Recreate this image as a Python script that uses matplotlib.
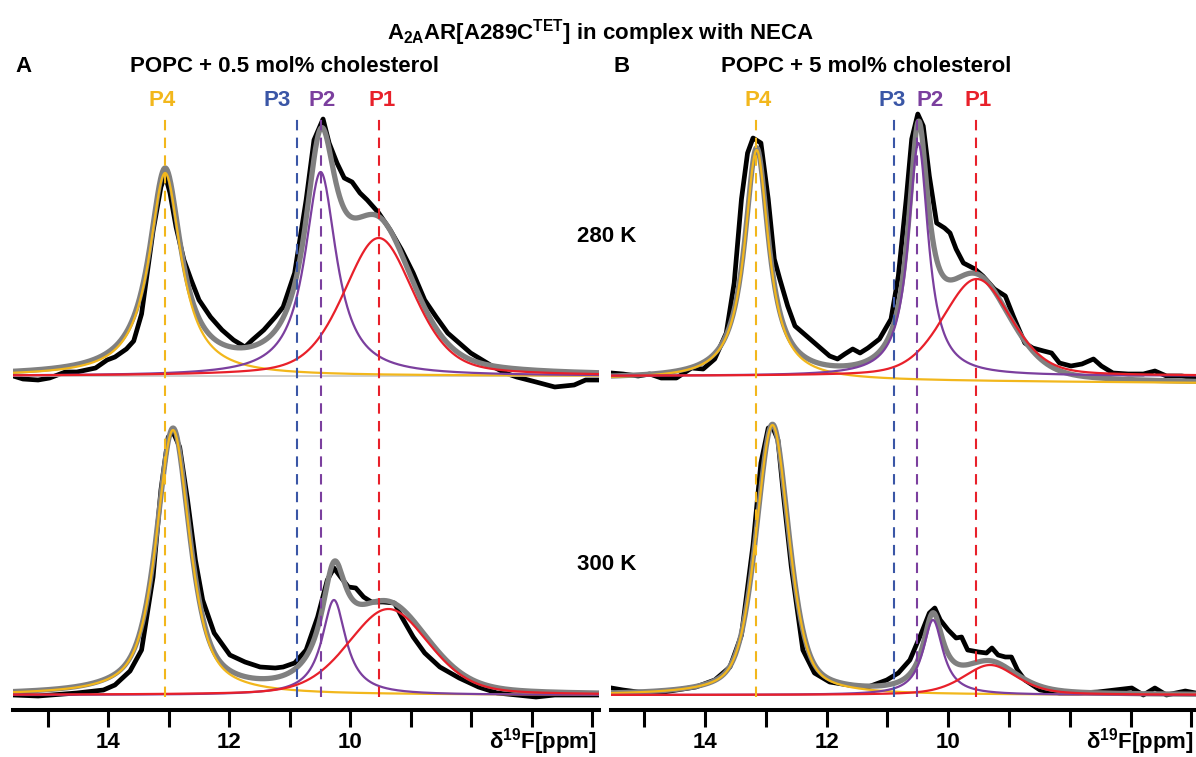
import numpy as np
import matplotlib.pyplot as plt

plt.rcParams['font.family'] = 'Liberation Sans'
plt.rcParams['font.weight'] = 'bold'
plt.rcParams['mathtext.fontset'] = 'custom'
plt.rcParams['mathtext.rm'] = 'Liberation Sans:bold'
plt.rcParams['mathtext.it'] = 'Liberation Sans:bold'
plt.rcParams['mathtext.bf'] = 'Liberation Sans:bold'

# --- colours ---
C_P1 = '#e8202a'
C_P2 = '#7b3f9e'
C_P3 = '#3a56a6'
C_P4 = '#f2b71c'
C_FIT = '#808080'

# --- peak markers (ppm) ---
peaks = ['P4', 'P3', 'P2', 'P1']
peak_colors = [C_P4, C_P3, C_P2, C_P1]
shift_A = [13.06, 10.88, 10.49, 9.52]
shift_B = [13.16, 10.89, 10.52, 9.55]
label_A = [13.11, 11.21, 10.47, 9.48]
label_B = [13.12, 10.93, 10.30, 9.50]

# --- fitted components: centre, height, half width, lorentzian fraction ---
# order: P4, P2, P1
fit_A_280 = dict(c=[13.06, 10.49, 9.53], h=[203, 204, 138], w=[0.32, 0.315, 0.69], eta=[1.0, 1.0, 0.4])
fit_A_300 = dict(c=[12.93, 10.27, 9.37], h=[265, 95, 86], w=[0.33, 0.24, 0.79], eta=[0.7, 1.0, 0.3])
fit_B_280 = dict(c=[13.15, 10.49, 9.53], h=[230, 233, 97], w=[0.24, 0.20, 0.66], eta=[1.0, 1.0, 0.3])
fit_B_300 = dict(c=[12.89, 10.25, 9.31], h=[270, 75, 30], w=[0.32, 0.20, 0.53], eta=[0.5, 1.0, 0.5])
tilt_B_280 = [-3, -7]   # baseline drift of the P4 fit, left -> right

# --- measured spectra (ppm, intensity) ---
ppm_A_280 = [15.57, 15.41, 15.16, 14.97, 14.71, 14.52, 14.21, 14.02, 13.89, 13.70,
             13.58, 13.45, 13.26, 13.13, 13.06, 12.98, 12.88, 12.75, 12.63, 12.50,
             12.31, 12.12, 11.93, 11.74, 11.62, 11.43, 11.24, 11.11, 10.92, 10.73,
             10.60, 10.45, 10.35, 10.22, 10.10, 9.97, 9.84, 9.72, 9.53, 9.34,
             9.15, 8.96, 8.77, 8.58, 8.39, 8.20, 8.01, 7.82, 7.63, 7.44,
             7.25, 6.93, 6.62, 6.30, 6.11, 5.92]
int_A_280 = [0, -3, -4, -2, 4, 4, 8, 16, 19, 27,
             35, 62, 145, 189, 201, 183, 149, 116, 96, 76,
             59, 46, 36, 29, 36, 46, 59, 69, 103, 176,
             236, 257, 233, 213, 198, 194, 183, 176, 163, 146,
             126, 103, 76, 59, 43, 33, 23, 16, 9, 3,
             -1, -6, -11, -9, -4, -4]

ppm_A_300 = [15.57, 15.16, 14.52, 14.08, 13.89, 13.64, 13.45, 13.26, 13.13, 13.01,
             12.93, 12.82, 12.69, 12.56, 12.44, 12.25, 11.99, 11.74, 11.49, 11.24,
             11.11, 10.92, 10.73, 10.54, 10.38, 10.27, 10.16, 10.03, 9.91, 9.78,
             9.65, 9.46, 9.27, 9.15, 8.96, 8.77, 8.52, 8.20, 7.88, 7.57,
             7.25, 6.93, 6.62, 6.30, 5.92]
int_A_300 = [0, -1, 2, 5, 10, 24, 45, 118, 205, 258,
             263, 248, 195, 135, 95, 62, 40, 33, 28, 27,
             28, 32, 45, 78, 115, 127, 118, 108, 107, 98,
             93, 93, 92, 78, 58, 42, 28, 17, 8, 2,
             0, -2, 0, 0, 0]

ppm_B_280 = [15.54, 15.35, 15.10, 14.91, 14.72, 14.47, 14.22, 14.03, 13.84, 13.65,
             13.52, 13.40, 13.30, 13.21, 13.08, 12.96, 12.86, 12.77, 12.64, 12.52,
             12.33, 12.14, 11.95, 11.82, 11.70, 11.57, 11.45, 11.32, 11.13, 10.94,
             10.82, 10.69, 10.60, 10.50, 10.41, 10.31, 10.19, 10.06, 9.97, 9.87,
             9.75, 9.56, 9.43, 9.24, 9.06, 8.93, 8.74, 8.61, 8.43, 8.30,
             8.17, 7.98, 7.80, 7.61, 7.48, 7.29, 7.04, 6.79, 6.60, 6.41,
             6.16, 5.93]
int_B_280 = [3, 2, 0, 2, -2, -2, 8, 7, 17, 43,
             93, 177, 223, 238, 233, 177, 117, 97, 70, 50,
             40, 30, 20, 17, 22, 27, 23, 28, 37, 57,
             100, 177, 237, 262, 250, 200, 153, 148, 143, 127,
             113, 107, 100, 87, 80, 60, 33, 28, 25, 23,
             13, 10, 12, 17, 10, 3, 2, 2, 5, 0,
             0, -2]

ppm_B_300 = [15.54, 15.35, 15.10, 14.78, 14.47, 14.15, 13.84, 13.59, 13.40, 13.21,
             13.08, 12.96, 12.89, 12.80, 12.71, 12.58, 12.39, 12.20, 11.95, 11.64,
             11.32, 11.01, 10.82, 10.63, 10.44, 10.31, 10.22, 10.13, 10.00, 9.87,
             9.78, 9.68, 9.50, 9.37, 9.28, 9.18, 9.06, 8.96, 8.86, 8.74,
             8.49, 8.17, 7.86, 7.54, 6.98, 6.79, 6.60, 6.41, 6.10, 5.93]
int_B_300 = [7, 5, 3, 2, 5, 8, 15, 28, 60, 150,
             232, 267, 268, 255, 200, 128, 45, 22, 13, 10,
             8, 15, 22, 35, 62, 82, 87, 75, 65, 57,
             58, 45, 43, 42, 47, 40, 38, 38, 25, 15,
             5, 2, 2, 3, 7, 0, 7, 0, 4, 2]

# vertical offsets of the two temperatures
off_280 = 334
off_300 = 15


def pvoigt(x, c, h, w, eta):
    d = ((x - c) / w) ** 2
    return h * (eta / (1 + d) + (1 - eta) * np.exp(-np.log(2) * d))


def draw_spectrum(ax, ppm, inten, fit, off, xlim, tilt=None, base_line=False):
    x = np.linspace(xlim[1], xlim[0], 1200)
    comps = [pvoigt(x, fit['c'][i], fit['h'][i], fit['w'][i], fit['eta'][i]) for i in range(3)]
    drift = np.zeros_like(x)
    if tilt is not None:
        drift = np.interp(x, [xlim[1], xlim[0]], [tilt[1], tilt[0]])
    total = comps[0] + comps[1] + comps[2] + drift

    ax.plot(ppm, np.array(inten) + off, color='black', lw=3.4, zorder=2,
            solid_joinstyle='round')
    ax.plot(x, total + off, color=C_FIT, lw=3.8, zorder=3)
    if base_line:
        ax.plot(x, np.zeros_like(x) + off, color='#c8c8c8', lw=1.2, zorder=3.5)
    ax.plot(x, comps[0] + drift + off, color=C_P4, lw=1.6, zorder=4)
    ax.plot(x, comps[1] + off, color=C_P2, lw=1.6, zorder=4.1)
    ax.plot(x, comps[2] + off, color=C_P1, lw=1.6, zorder=4.2)


fig = plt.figure(figsize=(11.96, 7.57), dpi=100)
W, H = 1196, 757


def fx(px):
    return px / W


def fy(py):
    return 1 - py / H


panels = [
    dict(rect=[13, 586], xlim=(15.575, 5.889), shifts=shift_A, labels=label_A,
         s280=(ppm_A_280, int_A_280, fit_A_280, None, True),
         s300=(ppm_A_300, int_A_300, fit_A_300, None, False)),
    dict(rect=[611, 585], xlim=(15.546, 5.924), shifts=shift_B, labels=label_B,
         s280=(ppm_B_280, int_B_280, fit_B_280, tilt_B_280, False),
         s300=(ppm_B_300, int_B_300, fit_B_300, None, False)),
]

for p in panels:
    ax = fig.add_axes([fx(p['rect'][0]), fy(710), fx(p['rect'][1]), 610 / H])
    ax.set_xlim(*p['xlim'])
    ax.set_ylim(0, 610)

    ppm, inten, fit, tilt, bl = p['s280']
    draw_spectrum(ax, ppm, inten, fit, off_280, p['xlim'], tilt, bl)
    ppm, inten, fit, tilt, bl = p['s300']
    draw_spectrum(ax, ppm, inten, fit, off_300, p['xlim'], tilt, bl)

    for name, col, s, lx in zip(peaks, peak_colors, p['shifts'], p['labels']):
        ax.plot([s, s], [13, 597], color=col, lw=1.5, ls=(0, (5, 3.5)), zorder=5)
        ax.text(lx, 610, name, color=col, fontsize=16, fontweight='bold',
                ha='center', va='center')

    for side in ['top', 'left', 'right']:
        ax.spines[side].set_visible(False)
    ax.spines['bottom'].set_linewidth(2.9)
    ax.set_yticks([])
    ax.set_xticks([15, 14, 13, 12, 11, 10, 9, 8, 7, 6])
    ax.set_xticklabels(['', '14', '', '12', '', '10', '', '', '', ''])
    ax.tick_params(axis='x', direction='out', length=12, width=2.2, pad=4,
                   labelsize=16)
    for t in ax.get_xticklabels():
        t.set_fontweight('bold')
    ax.set_facecolor('none')

    # axis title at the right end
    fig.text(fx(p['rect'][0] + p['rect'][1] - 2), fy(742), r'δ$^{19}$F[ppm]',
             fontsize=16, fontweight='bold', ha='right', va='center')

fig.text(fx(600), fy(33), r'A$_{\mathrm{2A}}$AR[A289C$^{\mathrm{TET}}$] in complex with NECA',
         fontsize=16, fontweight='bold', ha='center', va='center')
fig.text(fx(23), fy(67), 'A', fontsize=16, fontweight='bold', ha='center', va='center')
fig.text(fx(284), fy(67), 'POPC + 0.5 mol% cholesterol', fontsize=16, fontweight='bold',
         ha='center', va='center')
fig.text(fx(622), fy(67), 'B', fontsize=16, fontweight='bold', ha='center', va='center')
fig.text(fx(866), fy(67), 'POPC + 5 mol% cholesterol', fontsize=16, fontweight='bold',
         ha='center', va='center')
fig.text(fx(607), fy(237), '280 K', fontsize=16, fontweight='bold', ha='center', va='center')
fig.text(fx(607), fy(564), '300 K', fontsize=16, fontweight='bold', ha='center', va='center')

fig.savefig('out.png', dpi=100)
